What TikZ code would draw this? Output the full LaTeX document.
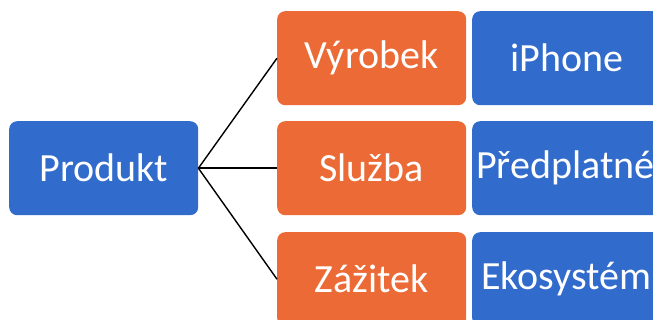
\documentclass[tikz,border=0pt]{standalone}
\usepackage{fontspec}
\setmainfont{Carlito}
\definecolor{boxblue}{RGB}{49,107,204}
\definecolor{boxorange}{RGB}{235,106,54}
\begin{document}
\begin{tikzpicture}[x=1pt,y=-1pt,
  box/.style={rounded corners=8pt, minimum width=189pt, minimum height=94pt, inner sep=0pt,
    text=white, font=\fontsize{40}{48}\selectfont, anchor=north west},
  bluebox/.style={box, fill=boxblue},
  orangebox/.style={box, fill=boxorange},
  leftbox/.style={bluebox, text width=181pt, align=left, inner xsep=4pt},
  link/.style={draw=black, line width=1.4pt}]
\useasboundingbox (0,0) rectangle (653,320);
\clip (0,0) rectangle (653,320);
\node[bluebox] (prod) at (9,121) {Produkt};
\node[orangebox] (vyr) at (277,11) {Výrobek};
\node[orangebox] (slu) at (277,121) {Služba};
\node[orangebox] (zaz) at (277,232) {Zážitek};
\node[leftbox] (iph) at (472,11) {\hspace*{34pt}iPhone};
\node[leftbox] (pre) at (472,121) {Předplatné};
\node[leftbox] (eko) at (472,232) {\hspace*{5pt}Ekosystém};
\draw[link] (prod.east) -- (vyr.west);
\draw[link] (prod.east) -- (slu.west);
\draw[link] (prod.east) -- (zaz.west);
\end{tikzpicture}
\end{document}
